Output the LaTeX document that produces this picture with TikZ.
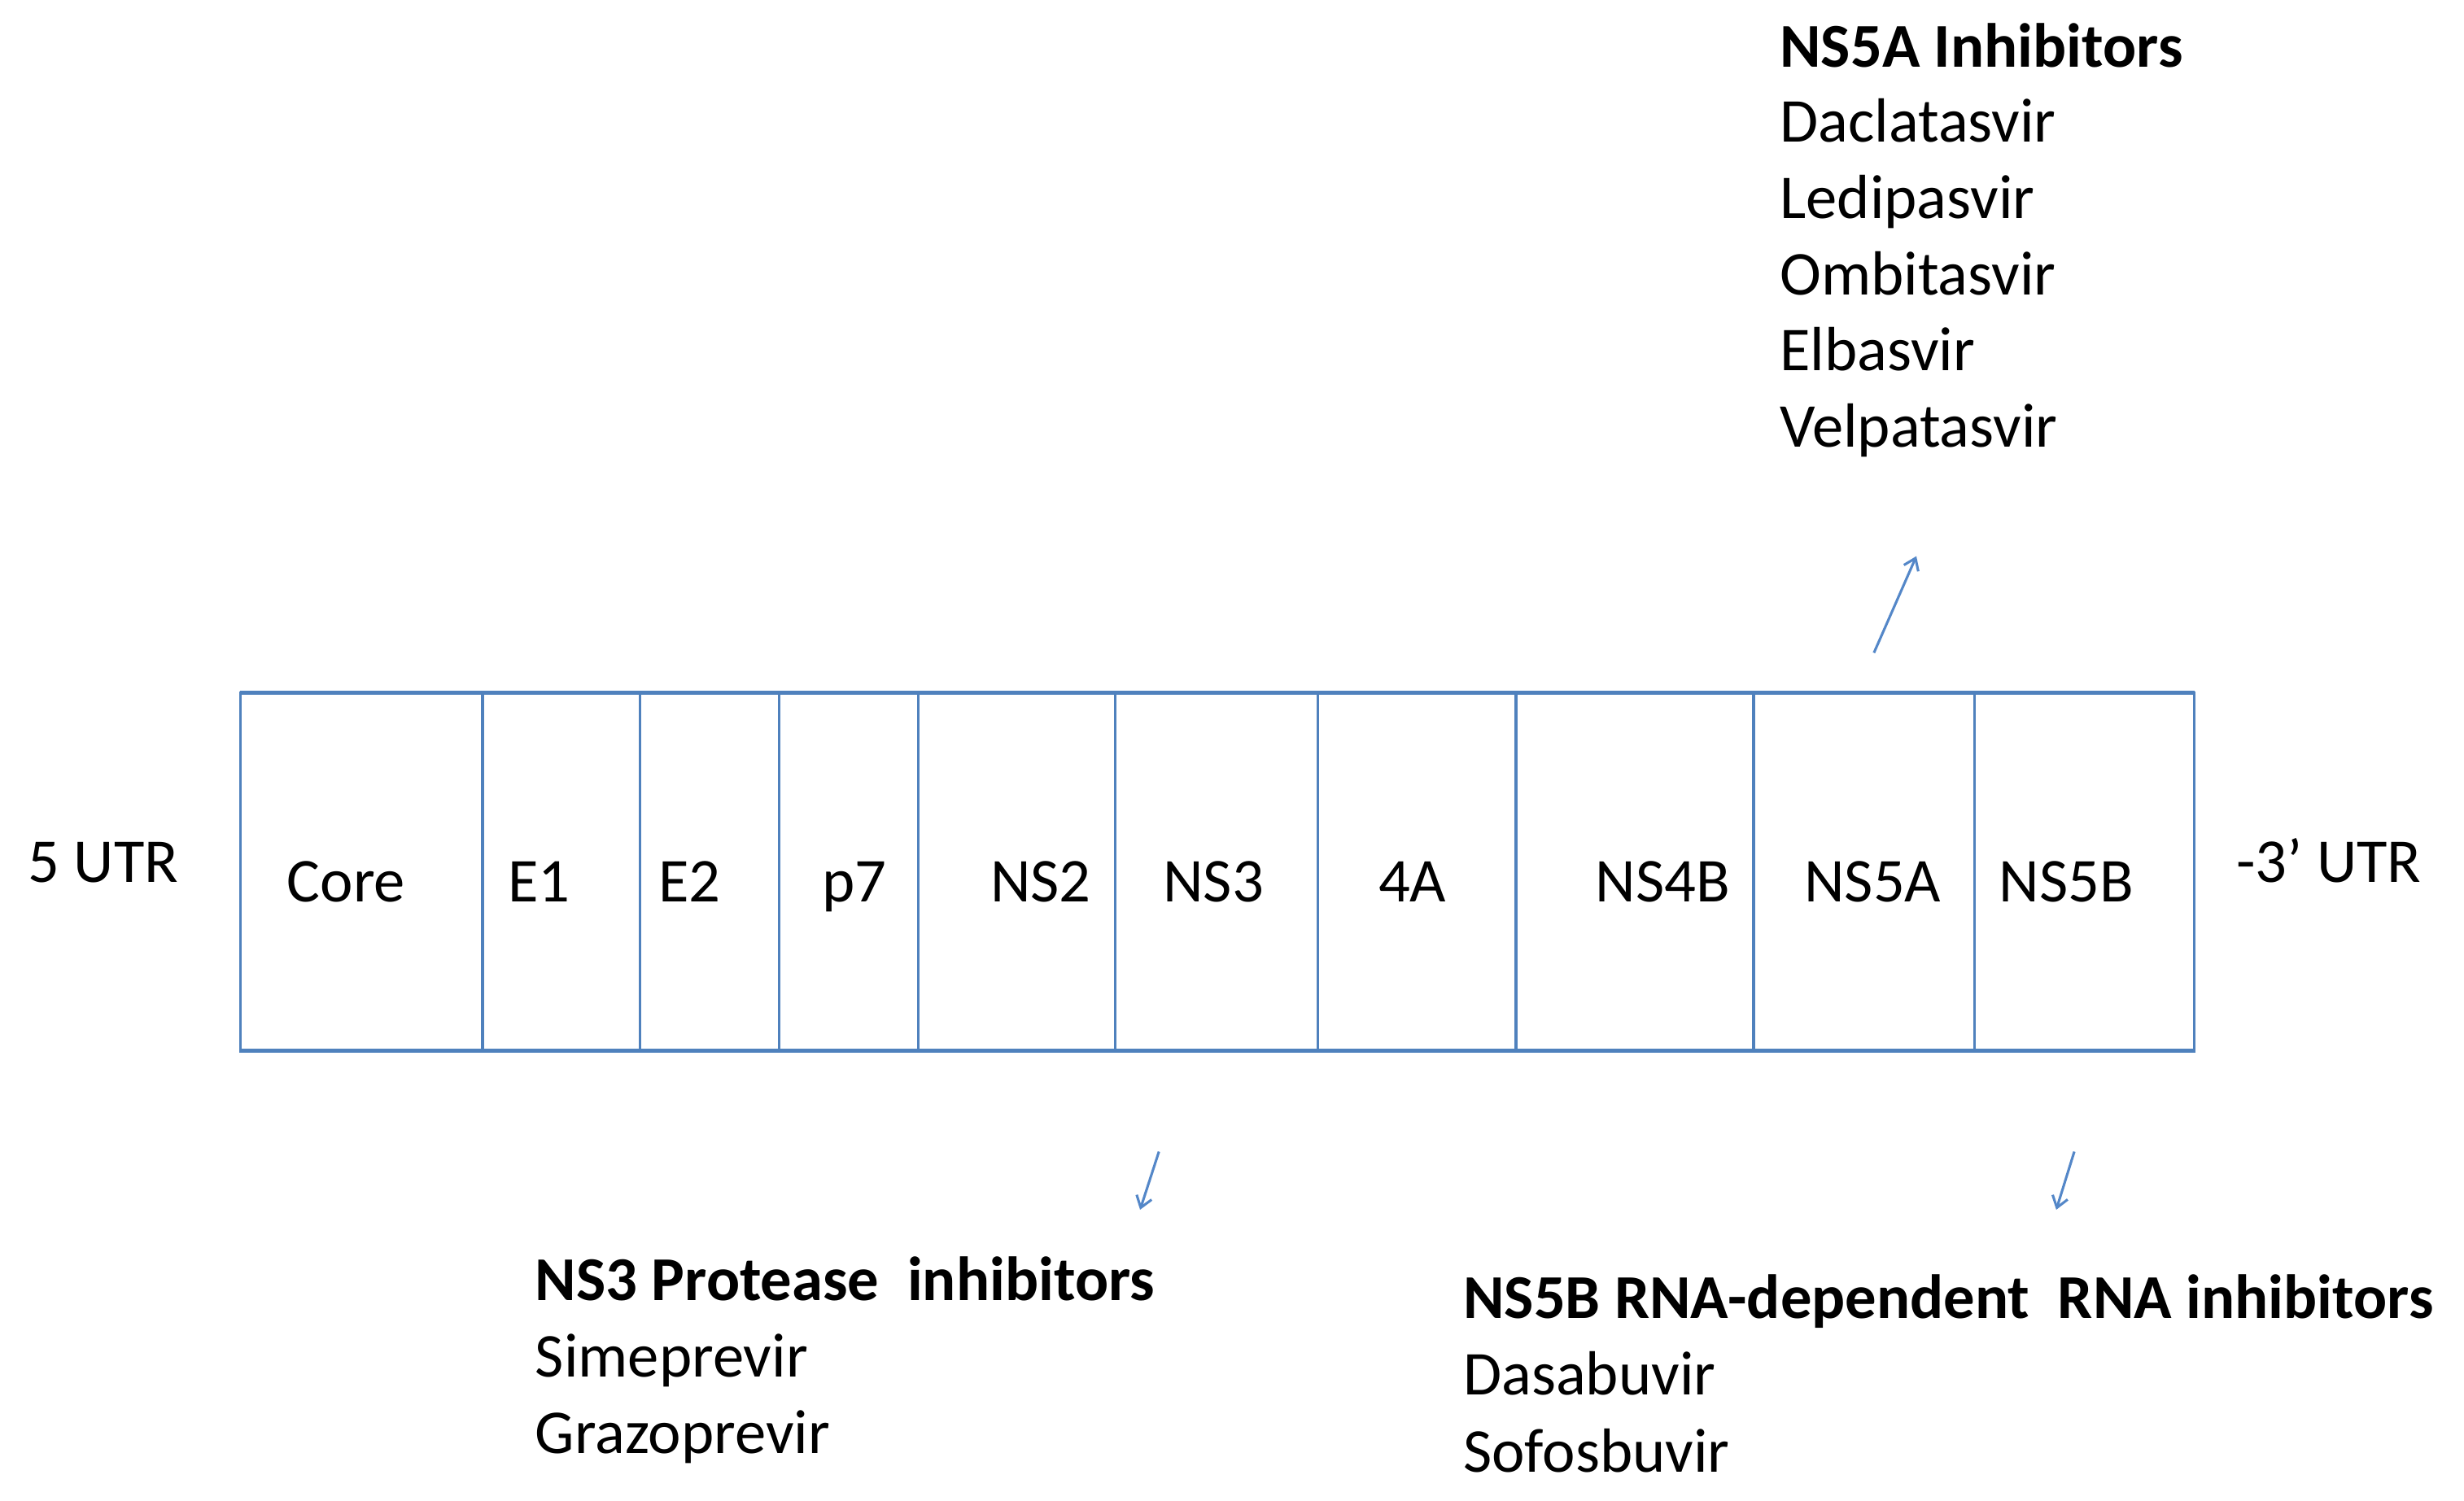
\documentclass[tikz,border=0pt]{standalone}
\usepackage{fontspec}
\setmainfont{Carlito}
\usetikzlibrary{arrows.meta}
\definecolor{boxblue}{RGB}{79,129,189}
\definecolor{arrblue}{RGB}{84,135,200}
\begin{document}
\begin{tikzpicture}[x=1pt,y=-1pt,
  txt/.style={anchor=base west,inner sep=0pt,font=\fontsize{39.7}{48}\selectfont,text=black},
  hd/.style={anchor=base west,inner sep=0pt,font=\fontsize{39.7}{48}\selectfont\bfseries,text=black},
  cell/.style={draw=boxblue,line width=1.8pt,inner sep=0pt,outer sep=0pt,minimum height=228pt,anchor=north west},
  edge/.style={draw=boxblue,line width=2.6pt},
  arr/.style={draw=arrblue,line width=1.6pt,-{Straight Barb[length=7pt,width=10pt]}}]
\useasboundingbox (0,0) rectangle (1568,955);
% genome segments
\foreach \n/\a/\b in {core/153/307, e1/307/407.3, e2/407.3/495.7, p7/495.7/584.4, ns2/584.4/709.8, ns3/709.8/838.5, fa/838.5/964.6, ns4b/964.6/1116, ns5a/1116/1256.4, ns5b/1256.4/1396.4}
  \node[cell,minimum width={(\b-\a)*1pt}] (c\n) at (\a,441) {};
\draw[edge] (ccore.north west) -- (cns5b.north east);
\draw[edge] (ccore.south west) -- (cns5b.south east);
% segment labels
\node[txt] (lcore) at (182.5,574) {Core};
\node[txt] (le1) at (323,574) {E1};
\node[txt] (le2) at (419,574) {E2};
\node[txt] (lp7) at (523,574) {p7};
\node[txt] (lns2) at (630,574) {NS2};
\node[txt] (lns3) at (740,574) {NS3};
\node[txt] (lfa) at (877,574) {4A};
\node[txt] (lns4b) at (1015,574) {NS4B};
\node[txt] (lns5a) at (1148,574) {NS5A};
\node[txt] (lns5b) at (1272,574) {NS5B};
\node[txt] (utr5) at (17.8,561.5) {5 UTR};
\node[txt] (utr3) at (1423,561.5) {-3’ UTR};
% NS5A inhibitors
\node[hd] (h5a) at (1132.5,42.5) {NS5A Inhibitors};
\node[txt] (d1) at (1132.5,90.5) {Daclatasvir};
\node[txt] (d2) at (1132.5,139) {Ledipasvir};
\node[txt] (d3) at (1132.5,187.5) {Ombitasvir};
\node[txt] (d4) at (1132.5,236) {Elbasvir};
\node[txt] (d5) at (1132.5,284.5) {Velpatasvir};
% NS3 protease inhibitors
\node[hd] (h3) at (340.5,828) {NS3 Protease\ \ inhibitors};
\node[txt] (s1) at (340.5,876.5) {Simeprevir};
\node[txt] (s2) at (340.5,925) {Grazoprevir};
% NS5B inhibitors
\node[hd] (h5b) at (931,839) {NS5B RNA-dependent\ \ RNA inhibitors};
\node[txt] (b1) at (931,888) {Dasabuvir};
\node[txt] (b2) at (931,937) {Sofosbuvir};
% arrows
\coordinate (aUt) at (1192.5,415.5);
\coordinate (aUh) at (1219.5,354);
\coordinate (a3t) at (737.5,733);
\coordinate (a3h) at (725.5,770);
\coordinate (aBt) at (1320,733);
\coordinate (aBh) at (1308.5,770);
\draw[arr] (aUt) -- (aUh);
\draw[arr] (a3t) -- (a3h);
\draw[arr] (aBt) -- (aBh);
\end{tikzpicture}
\end{document}
